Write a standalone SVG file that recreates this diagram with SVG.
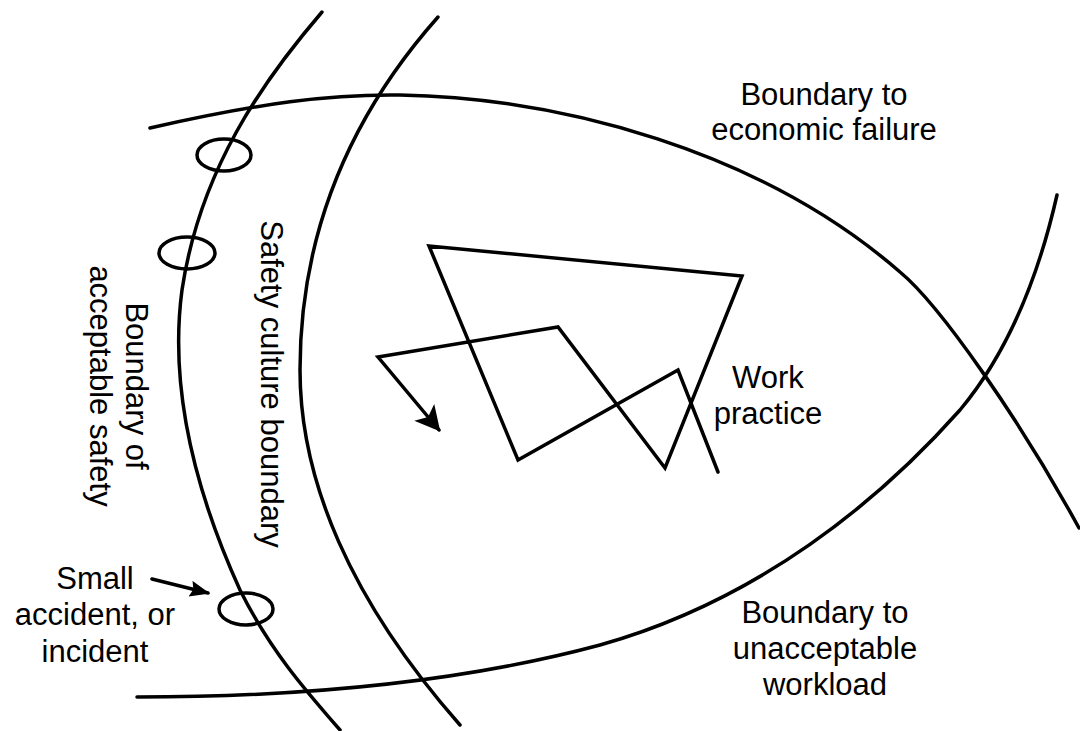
<svg xmlns="http://www.w3.org/2000/svg" width="1080" height="731" viewBox="0 0 1080 731">
<style>
.ln{fill:none;stroke:#000;stroke-width:3.5;stroke-linecap:round;stroke-linejoin:miter}
.el{fill:none;stroke:#000;stroke-width:3.5}
.t{font-family:"Liberation Sans",Arial,Helvetica,sans-serif;font-size:31px;fill:#000;text-anchor:middle}
</style>
<defs>
<marker id="ah" markerUnits="userSpaceOnUse" markerWidth="24" markerHeight="18" refX="18" refY="8" orient="auto">
<path d="M0,0 L20,8 L0,16 L3,8 z" fill="#000"/>
</marker>
<marker id="ahb" markerUnits="userSpaceOnUse" markerWidth="28" markerHeight="28" refX="23" refY="13" orient="auto">
<path d="M0,0 L25,13 L0,26 L6,13 z" fill="#000"/>
</marker>
</defs>
<rect width="1080" height="731" fill="#fff"/>
<g id="connectors">
<path id="boundary-safety" class="ln" d="M322,12 C262,82 200,170 182,290 C170,380 190,480 240,590 C270,650 305,690 340,730"/>
<path id="boundary-culture" class="ln" d="M438,17 C360,105 300,220 300,370 C300,480 350,600 460,725"/>
<path id="boundary-economic" class="ln" d="M150,128 C260,103 330,94 400,95 C560,98 760,150 900,272 C940,305 1020,420 1079,528"/>
<path id="boundary-workload" class="ln" d="M137,697 C320,697 470,680 600,645 C760,600 880,500 960,410 C1010,350 1040,270 1057,195"/>
<path id="work-practice-path" class="ln" d="M718,472 L678,370 L518,460 L429,246 L742,276 L665,468 L558,327 L378,357 L439,430" marker-end="url(#ahb)"/>
<path id="incident-arrow" class="ln" d="M152,579 L208,593" marker-end="url(#ah)"/>
</g>
<g id="incident-1"><ellipse class="el" cx="224" cy="155" rx="27" ry="16"/></g>
<g id="incident-2"><ellipse class="el" cx="187" cy="253" rx="28" ry="16"/></g>
<g id="incident-3"><ellipse class="el" cx="246" cy="609" rx="27" ry="16"/></g>
<g id="label-economic">
<text class="t" x="824" y="105">Boundary to</text>
<text class="t" x="824" y="140">economic failure</text>
</g>
<g id="label-workload">
<text class="t" x="825" y="623">Boundary to</text>
<text class="t" x="825" y="659">unacceptable</text>
<text class="t" x="825" y="695">workload</text>
</g>
<g id="label-work-practice">
<text class="t" x="768" y="388">Work</text>
<text class="t" x="768" y="424">practice</text>
</g>
<g id="label-incident">
<text class="t" x="95" y="589">Small</text>
<text class="t" x="95" y="625">accident, or</text>
<text class="t" x="95" y="662">incident</text>
</g>
<g id="label-culture">
<text class="t" transform="translate(261,384) rotate(90)">Safety culture boundary</text>
</g>
<g id="label-safety">
<text class="t" transform="translate(126,386) rotate(90)">Boundary of</text>
<text class="t" transform="translate(90,386) rotate(90)">acceptable safety</text>
</g>
</svg>
